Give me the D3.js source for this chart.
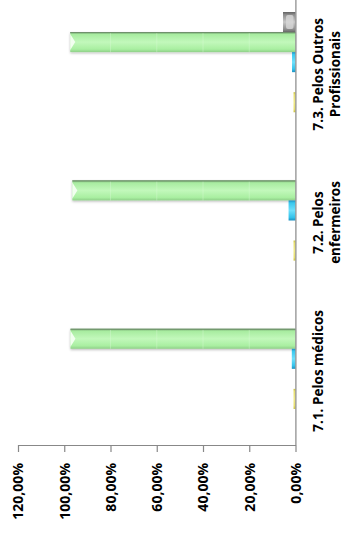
<!DOCTYPE html>
<html>
<head>
<meta charset="utf-8">
<script src="https://cdn.jsdelivr.net/npm/d3@7/dist/d3.min.js"></script>
<style>
  html, body { margin: 0; padding: 0; background: #fff; }
  svg { display: block; }
  text { font-family: "Open Sans", "Liberation Sans", sans-serif; font-weight: 700; fill: #000; }
</style>
</head>
<body>
<svg id="chart" width="346" height="540"></svg>
<script>
// Categories (top to bottom as drawn) and the share of answers per series, in %
const categories = ["7.3. Pelos Outros Profissionais", "7.2. Pelos enfermeiros", "7.1. Pelos médicos"];
const categoryLines = [["7.3. Pelos Outros", "Profissionais"], ["7.2. Pelos", "enfermeiros"], ["7.1. Pelos médicos"]];
const grayValues   = [5.4, 0, 0];
const greenValues  = [97.4, 96.5, 97.3];
const cyanValues   = [1.5, 3.0, 1.6];
const blankValues  = [0, 0, 0];
const yellowValues = [0.6, 0.6, 0.6];
const tickValues = [0, 20, 40, 60, 80, 100, 120];
const tickLabels = ["0,00%", "20,00%", "40,00%", "60,00%", "80,00%", "100,00%", "120,00%"];

const seriesKeys = ["gray", "green", "cyan", "blank", "yellow"];
const seriesValues = { gray: grayValues, green: greenValues, cyan: cyanValues, blank: blankValues, yellow: yellowValues };

const svg = d3.select("#chart");
const defs = svg.append("defs");

// Bar shading: light band in the middle, darker rim on the edges
const palettes = {
  green:  ["#6f9f6b", "#a8eca0", "#c2f8bb", "#a9efa1", "#8fcf88"],
  cyan:   ["#1c8fc0", "#39c8ee", "#6fe0fb", "#33c2ea", "#1b8fc0"],
  gray:   ["#5e5e5e", "#8a8a8a", "#c8c8c8", "#8f8f8f", "#6a6a6a"],
  yellow: ["#c8c040", "#e8e070", "#f0ea88", "#e8e070", "#c8c040"]
};
Object.entries(palettes).forEach(([k, cols]) => {
  const g = defs.append("linearGradient").attr("id", "grad-" + k)
    .attr("x1", 0).attr("y1", 0).attr("x2", 0).attr("y2", 1);
  [0, 0.12, 0.5, 0.85, 1].forEach((o, i) =>
    g.append("stop").attr("offset", o).attr("stop-color", cols[i]));
});
const shadow = defs.append("filter").attr("id", "soft").attr("x", -0.1).attr("y", -0.3).attr("width", 1.2).attr("height", 1.8);
shadow.append("feDropShadow").attr("dx", 0).attr("dy", 1.2).attr("stdDeviation", 1.2).attr("flood-color", "#000").attr("flood-opacity", 0.25);

const x = d3.scaleLinear().domain([0, 120]).range([295.5, 18]);
const y = d3.scaleBand().domain(categories).range([0, 445]);
const ys = d3.scaleBand().domain(seriesKeys).range([0, y.bandwidth()])
  .paddingInner(0).paddingOuter(1.2).align(0.25);

// Bars
const groups = svg.append("g").selectAll("g").data(categories).join("g")
  .attr("transform", c => `translate(0,${y(c)})`);

groups.each(function(c, ci) {
  const g = d3.select(this);
  seriesKeys.forEach(k => {
    const v = seriesValues[k][ci];
    if (!(v > 0) || k === "blank") return;
    const x0 = x(v) - (k === "yellow" ? 0.6 : 0), w = x(0) - x0, y0 = ys(k), h = ys.bandwidth();
    const bar = g.append("g").attr("filter", k === "green" ? "url(#soft)" : null);
    bar.append("rect").attr("x", x0).attr("y", y0).attr("width", w).attr("height", h)
      .attr("fill", `url(#grad-${k})`);
    if (k === "green") {
      // faint grid lines showing through the bar
      tickValues.filter(t => t > 0 && t < v).forEach(t => {
        bar.append("line").attr("x1", x(t)).attr("x2", x(t)).attr("y1", y0 + 1).attr("y2", y0 + h)
          .attr("stroke", "#dcf8d8").attr("stroke-width", 0.6).attr("opacity", 0.6);
      });
      // bevelled tip
      bar.append("path")
        .attr("d", `M${x0},${y0 + 2}L${x0 + 5},${y0 + h / 2}L${x0},${y0 + h - 2}Z`)
        .attr("fill", "#f2fff0");
      bar.append("line").attr("x1", x0).attr("x2", x(0)).attr("y1", y0 + 0.5).attr("y2", y0 + 0.5)
        .attr("stroke", "#6f8f6b").attr("stroke-width", 1);
    }
    if (k === "gray") {
      bar.append("rect").attr("x", x0 + 3).attr("y", y0 + 3).attr("width", Math.max(0, w - 5)).attr("height", h - 6)
        .attr("rx", 2).attr("fill", "#d8d8d8").attr("opacity", 0.8);
    }
  });
});

// Category axis line
svg.append("line").attr("x1", x(0) + 0.4).attr("x2", x(0) + 0.4).attr("y1", 0).attr("y2", 445)
  .attr("stroke", "#888").attr("stroke-width", 1.2);

// Value axis
const axis = svg.append("g").attr("transform", "translate(0,445)")
  .call(d3.axisBottom(x).tickValues(tickValues).tickSize(7).tickSizeOuter(0).tickFormat((d, i) => tickLabels[i]));
axis.select(".domain").attr("stroke", "#888").attr("stroke-width", 1.2);
axis.selectAll(".tick line").attr("stroke", "#888").attr("stroke-width", 1.2);
axis.selectAll(".tick text")
  .attr("transform", "rotate(-90)")
  .attr("x", -18).attr("y", 0).attr("dy", "0.35em")
  .attr("text-anchor", "end")
  .style("font-family", "'Open Sans', sans-serif").style("font-weight", 700)
  .style("font-size", "14px").attr("fill", "#000");

// Category labels, rotated to read bottom-to-top
categories.forEach((c, i) => {
  const lines = categoryLines[i];
  const cy = y(c) + y.bandwidth() / 2;
  const t = svg.append("text")
    .attr("transform", `translate(${318},${cy}) rotate(-90)`)
    .attr("text-anchor", "middle")
    .style("font-size", "13.5px");
  lines.forEach((ln, j) => {
    t.append("tspan").attr("x", 0).attr("dy", j === 0 ? "0.35em" : "1.3em").text(ln);
  });
});
</script>
</body>
</html>
